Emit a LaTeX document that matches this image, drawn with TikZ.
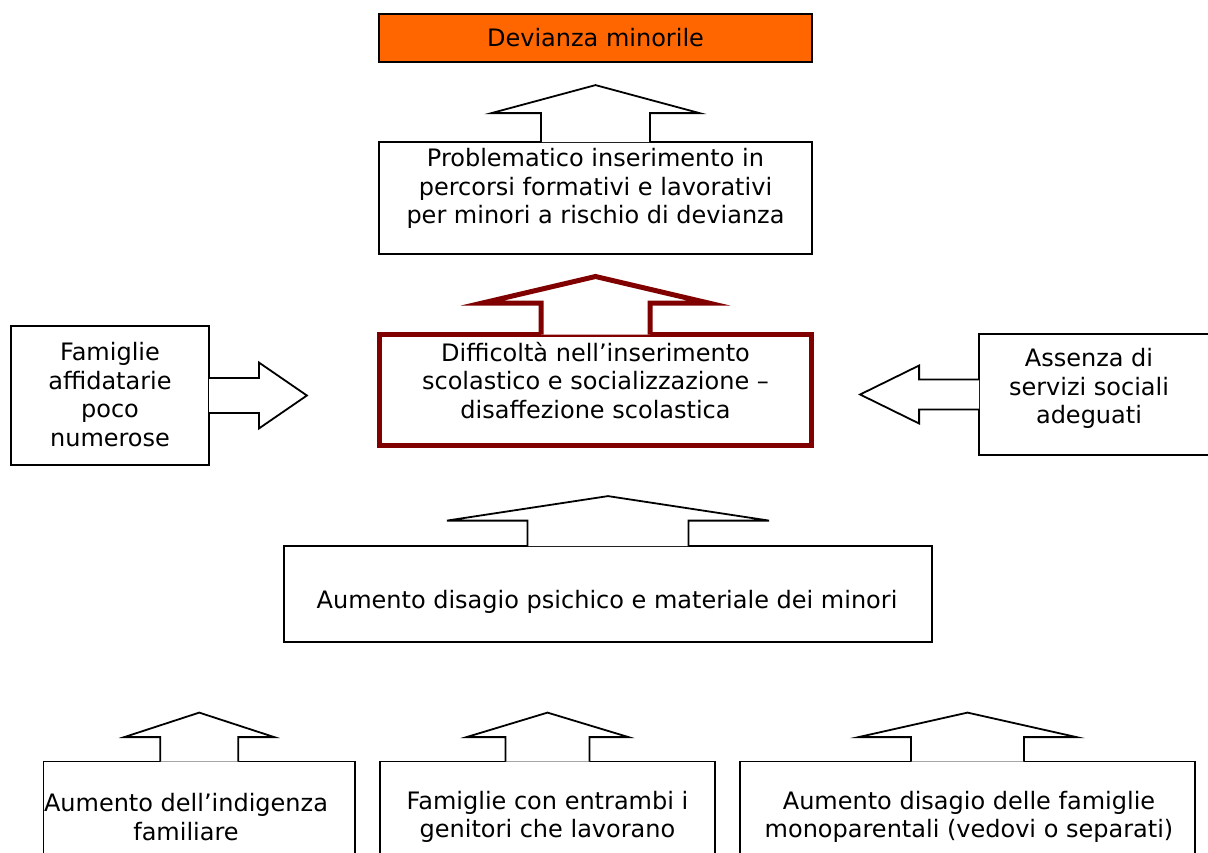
\documentclass[tikz,border=0pt]{standalone}
\usepackage{fontspec}
\setmainfont{DejaVu Sans}
\definecolor{devorange}{RGB}{255,102,0}
\definecolor{darkred}{RGB}{128,0,0}
\tikzset{
box/.style={draw, line width=1.8pt, fill=white, inner sep=0pt},
redbox/.style={box, draw=darkred, line width=5pt},
txt/.style={align=center, inner sep=0pt, font=\fontsize{24}{28.5}\selectfont},
blockarrow/.style={draw, line width=1.8pt, fill=white}
}
\newcommand{\calloutarrow}[7][]{%
\draw[blockarrow,#1,shift={(#2)},rotate=#3]
({-#4pt},{-0.5\pgflinewidth}) -- ({-#4pt},{#5pt}) -- ({-#6pt},{#5pt})
-- (0pt,{#5pt+#7pt}) -- ({#6pt},{#5pt}) -- ({#4pt},{#5pt}) -- ({#4pt},{-0.5\pgflinewidth});}

\begin{document}
\begin{tikzpicture}[x=1pt,y=-1pt]
\useasboundingbox (0,0) rectangle (1208,852);
\clip (0,0) rectangle (1208,852);

\node[box, txt, fill=devorange, minimum width=433, minimum height=48] (dev) at (595.5,38) {Devianza minorile};

\node[box, minimum width=433, minimum height=112] (prob) at (595.5,198) {};
\node[txt] (probtxt) at (595.5,188.5) {Problematico inserimento in\\percorsi formativi e lavorativi\\per minori a rischio di devianza};
\calloutarrow{prob.north}{0}{54.5}{28}{104}{28}

\node[redbox, minimum width=432, minimum height=111] (diff) at (595.5,390) {};
\node[txt] (difftxt) at (595.5,380.5) {Difficoltà nell’inserimento\\scolastico e socializzazione –\\disaffezione scolastica};
\calloutarrow[draw=darkred, line width=5pt]{diff.north}{0}{54.5}{29}{113}{26.5}

\node[box, minimum width=198, minimum height=139] (affid) at (110,395.5) {};
\node[txt] (affidtxt) at (110,394.5) {Famiglie\\affidatarie\\poco\\numerose};
\calloutarrow{affid.east}{-90}{17.5}{49}{33}{48}

\node[box, minimum width=251, minimum height=121] (serv) at (1104.5,394.5) {};
\node[txt] (servtxt) at (1089,388.5) {Assenza di\\servizi sociali\\adeguati};
\calloutarrow{serv.west}{90}{15}{59}{29}{59}

\node[box, minimum width=648, minimum height=96] (disagio) at (608,594) {};
\node[txt] (disagiotxt) at (607,602) {Aumento disagio psichico e materiale dei minori};
\calloutarrow{disagio.north}{0}{80.5}{24.5}{161}{24.5}

\foreach \n/\x/\w/\sh/\hd/\tx/\lbl in {
1/199.25/311.5/39/75/186/{Aumento dell’indigenza\\familiare},
2/547.5/335/42/81/547.5/{Famiglie con entrambi i\\genitori che lavorano},
3/967.5/455/56.5/109/969/{Aumento disagio delle famiglie\\monoparentali (vedovi o separati)}}
{
\node[box, minimum width=\w, minimum height=119] (cause\n) at (\x,821) {};
\node[txt] (txt\n) at (\tx,817) {\lbl};
\calloutarrow{cause\n.north}{0}{\sh}{23.5}{\hd}{24.5}
}
\end{tikzpicture}
\end{document}
